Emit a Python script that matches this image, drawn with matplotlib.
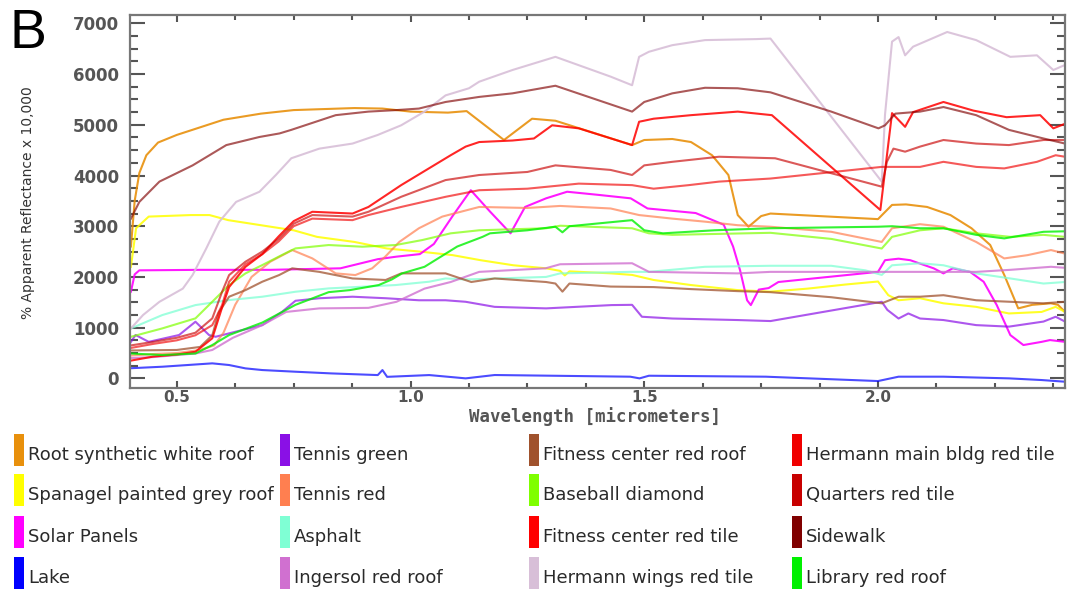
import matplotlib
matplotlib.use("Agg")
import matplotlib.pyplot as plt
from matplotlib.patches import Rectangle
from matplotlib.ticker import MultipleLocator

# ---------------- data (wavelength in micrometers, reflectance x 10,000) ----------------
root_wl = [0.402, 0.41, 0.42, 0.435, 0.46, 0.5, 0.55, 0.6, 0.68, 0.75, 0.88, 0.94, 1.0, 1.08,
           1.12, 1.20, 1.26, 1.31, 1.474, 1.50, 1.56, 1.60, 1.645, 1.68, 1.70, 1.723, 1.75, 1.77,
           2.0, 2.03, 2.06, 2.105, 2.155, 2.20, 2.24, 2.27, 2.30, 2.33, 2.37, 2.385, 2.40]
root_val = [2600, 3500, 4050, 4400, 4650, 4800, 4950, 5100, 5220, 5290, 5330, 5320, 5260, 5240,
            5270, 4700, 5120, 5080, 4600, 4700, 4720, 4660, 4400, 4010, 3220, 2990, 3200, 3250,
            3140, 3420, 3430, 3380, 3220, 2960, 2630, 2040, 1380, 1450, 1480, 1450, 1310]

spanagel_wl = [0.402, 0.413, 0.44, 0.53, 0.57, 0.61, 0.68, 0.75, 0.80, 0.88, 0.95, 1.02, 1.09,
               1.15, 1.22, 1.29, 1.32, 1.33, 1.34, 1.43, 1.474, 1.52, 1.60, 1.70, 1.77, 1.85,
               1.93, 2.0, 2.022, 2.044, 2.09, 2.14, 2.21, 2.28, 2.35, 2.38, 2.40]
spanagel_val = [2200, 2960, 3190, 3220, 3220, 3120, 3020, 2920, 2790, 2690, 2560, 2500, 2430,
                2330, 2230, 2170, 2120, 2030, 2110, 2070, 2040, 1940, 1840, 1740, 1710, 1770,
                1850, 1910, 1640, 1540, 1580, 1480, 1410, 1280, 1310, 1410, 1310]

solar_wl = [0.402, 0.41, 0.42, 0.55, 0.70, 0.85, 0.93, 0.97, 1.02, 1.05, 1.09, 1.129, 1.17,
            1.214, 1.245, 1.29, 1.335, 1.40, 1.471, 1.507, 1.61, 1.67, 1.69, 1.705, 1.72, 1.728,
            1.745, 1.766, 1.787, 2.0, 2.015, 2.044, 2.069, 2.119, 2.14, 2.16, 2.197, 2.226,
            2.254, 2.283, 2.311, 2.35, 2.368, 2.40]
solar_val = [1710, 2050, 2130, 2140, 2140, 2170, 2350, 2400, 2450, 2650, 3200, 3710, 3290,
             2860, 3380, 3550, 3680, 3620, 3550, 3350, 3260, 3030, 2600, 2130, 1540, 1445,
             1750, 1780, 1900, 2100, 2330, 2360, 2330, 2170, 2070, 2170, 2100, 1905,
             1445, 854, 657, 720, 755, 720]

lake_wl = [0.402, 0.47, 0.576, 0.612, 0.647, 0.683, 0.754, 0.83, 0.93, 0.94, 0.95, 1.04,
           1.118, 1.18, 1.47, 1.49, 1.51, 1.76, 2.0, 2.044, 2.14, 2.28, 2.35, 2.40]
lake_val = [200, 230, 296, 263, 197, 164, 131, 98, 65, 164, 30, 65,
            0, 66, 33, 0, 52, 33, -53, 33, 33, 0, -33, -66]

tgreen_wl = [0.402, 0.412, 0.44, 0.505, 0.54, 0.569, 0.583, 0.626, 0.683, 0.725, 0.754, 0.805,
             0.876, 0.947, 1.018, 1.075, 1.118, 1.18, 1.29, 1.43, 1.474, 1.495, 1.56, 1.70,
             1.77, 2.008, 2.02, 2.044, 2.065, 2.09, 2.14, 2.21, 2.28, 2.354, 2.38, 2.40]
tgreen_val = [720, 855, 720, 855, 1117, 855, 820, 920, 1050, 1310, 1530, 1580,
              1610, 1580, 1540, 1540, 1510, 1410, 1380, 1445, 1450, 1215, 1180, 1150,
              1130, 1510, 1350, 1180, 1280, 1180, 1150, 1050, 1020, 1120, 1215, 1120]

tred_wl = [0.402, 0.45, 0.50, 0.55, 0.58, 0.60, 0.625, 0.66, 0.70, 0.747, 0.79, 0.84, 0.882,
           0.918, 0.946, 0.976, 1.018, 1.068, 1.147, 1.25, 1.32, 1.428, 1.489, 1.56, 1.63,
           1.70, 1.77, 1.90, 2.008, 2.03, 2.09, 2.14, 2.21, 2.27, 2.32, 2.37, 2.40]
tred_val = [450, 480, 500, 560, 650, 900, 1450, 2000, 2300, 2530, 2366, 2070, 2037,
            2170, 2400, 2690, 2960, 3190, 3380, 3360, 3400, 3350, 3220, 3150, 3090,
            3020, 2990, 2890, 2690, 2960, 3040, 2990, 2690, 2365, 2430, 2530, 2460]

asphalt_wl = [0.402, 0.469, 0.54, 0.612, 0.683, 0.754, 0.825, 0.897, 0.968, 1.04, 1.075, 1.118,
              1.29, 1.32, 1.47, 1.51, 1.63, 1.77, 1.90, 1.973, 2.008, 2.03, 2.09, 2.14, 2.21,
              2.283, 2.354, 2.40]
asphalt_val = [985, 1248, 1445, 1544, 1610, 1708, 1774, 1807, 1840, 1906, 1970, 1950,
               2000, 2070, 2100, 2100, 2200, 2220, 2220, 2130, 2040, 2230, 2270, 2230, 2070,
               1970, 1870, 1900]

ingersol_wl = [0.402, 0.45, 0.54, 0.576, 0.62, 0.683, 0.734, 0.805, 0.91, 0.97, 1.03, 1.086,
               1.147, 1.289, 1.32, 1.474, 1.51, 1.70, 1.77, 2.09, 2.21, 2.283, 2.37, 2.40]
ingersol_val = [400, 420, 490, 560, 800, 1050, 1310, 1380, 1390, 1510, 1770, 1900,
                2100, 2170, 2250, 2270, 2100, 2070, 2100, 2100, 2100, 2140, 2200, 2180]

fc_roof_wl = [0.402, 0.50, 0.55, 0.576, 0.59, 0.612, 0.647, 0.683, 0.719, 0.747, 0.805, 0.876,
              0.947, 0.98, 1.075, 1.13, 1.18, 1.29, 1.31, 1.325, 1.34, 1.428, 1.52, 1.60,
              1.70, 1.77, 1.90, 2.008, 2.044, 2.09, 2.14, 2.21, 2.283, 2.354, 2.40]
fc_roof_val = [550, 560, 620, 850, 1300, 1610, 1740, 1906, 2037, 2170, 2100, 1970,
               1940, 2070, 2070, 1900, 1970, 1900, 1870, 1710, 1870, 1810, 1800, 1760,
               1720, 1700, 1600, 1480, 1610, 1610, 1640, 1540, 1510, 1480, 1510]

baseball_wl = [0.402, 0.469, 0.54, 0.576, 0.612, 0.647, 0.683, 0.725, 0.754, 0.825, 0.897,
               0.968, 1.025, 1.086, 1.147, 1.29, 1.32, 1.474, 1.51, 1.56, 1.77, 1.90, 2.008,
               2.03, 2.09, 2.14, 2.21, 2.283, 2.354, 2.40]
baseball_val = [820, 985, 1183, 1511, 1840, 2070, 2234, 2432, 2563, 2629, 2596,
                2629, 2727, 2860, 2920, 2960, 3010, 2960, 2860, 2830, 2870, 2750, 2560,
                2790, 2920, 2960, 2860, 2790, 2830, 2790]

fc_tile_wl = [0.402, 0.45, 0.50, 0.54, 0.576, 0.597, 0.612, 0.647, 0.683, 0.718, 0.75, 0.79,
              0.876, 0.91, 0.98, 1.086, 1.118, 1.147, 1.218, 1.264, 1.303, 1.36, 1.474, 1.489,
              1.52, 1.60, 1.70, 1.773, 2.005, 2.03, 2.058, 2.075, 2.14, 2.204, 2.275, 2.347,
              2.375, 2.40]
fc_tile_val = [350, 430, 470, 525, 790, 1400, 1800, 2200, 2450, 2800, 3100, 3285,
               3250, 3380, 3810, 4400, 4570, 4660, 4690, 4730, 4990, 4930, 4600, 5060,
               5120, 5190, 5260, 5190, 3320, 5230, 4960, 5250, 5450, 5280, 5150, 5190,
               4930, 5020]

wings_wl = [0.402, 0.428, 0.463, 0.513, 0.534, 0.563, 0.591, 0.627, 0.677, 0.712, 0.745, 0.805,
            0.876, 0.93, 0.98, 1.03, 1.075, 1.125, 1.147, 1.218, 1.31, 1.428, 1.474, 1.489,
            1.51, 1.56, 1.63, 1.74, 1.77, 2.008, 2.015, 2.03, 2.044, 2.058, 2.075, 2.148,
            2.21, 2.283, 2.34, 2.375, 2.40]
wings_val = [985, 1250, 1510, 1770, 2040, 2560, 3090, 3480, 3680, 4010, 4340, 4530,
             4630, 4800, 4990, 5260, 5580, 5720, 5850, 6080, 6340, 5950, 5780, 6340,
             6440, 6570, 6670, 6690, 6700, 3880, 5200, 6640, 6730, 6370, 6540, 6830,
             6670, 6340, 6370, 6080, 6180]

main_wl = [0.402, 0.45, 0.50, 0.54, 0.576, 0.597, 0.612, 0.647, 0.683, 0.718, 0.75, 0.79,
           0.876, 0.91, 0.98, 1.075, 1.147, 1.25, 1.36, 1.474, 1.52, 1.595, 1.66, 1.77,
           2.008, 2.09, 2.14, 2.21, 2.27, 2.34, 2.38, 2.40]
main_val = [600, 680, 750, 850, 1050, 1445, 1906, 2250, 2450, 2700, 3000, 3150,
            3120, 3220, 3380, 3580, 3710, 3740, 3840, 3810, 3740, 3810, 3880, 3940,
            4170, 4170, 4270, 4170, 4140, 4270, 4400, 4370]

quarters_wl = [0.402, 0.45, 0.50, 0.54, 0.576, 0.597, 0.612, 0.647, 0.683, 0.718, 0.75, 0.79,
               0.876, 0.91, 0.98, 1.075, 1.147, 1.25, 1.31, 1.428, 1.474, 1.50, 1.56, 1.66,
               1.78, 2.008, 2.019, 2.033, 2.058, 2.09, 2.14, 2.21, 2.28, 2.354, 2.40]
quarters_val = [650, 720, 800, 900, 1183, 1708, 2037, 2300, 2500, 2750, 3050, 3220,
                3190, 3285, 3580, 3910, 4010, 4070, 4200, 4110, 4010, 4200, 4270, 4370,
                4340, 3780, 4270, 4530, 4470, 4570, 4700, 4630, 4600, 4700, 4700]

sidewalk_wl = [0.402, 0.42, 0.463, 0.534, 0.606, 0.677, 0.72, 0.745, 0.84, 0.91, 0.97, 1.018,
               1.075, 1.147, 1.218, 1.31, 1.474, 1.50, 1.56, 1.63, 1.70, 1.77, 1.90, 2.001,
               2.015, 2.037, 2.09, 2.14, 2.21, 2.28, 2.354, 2.40]
sidewalk_val = [3150, 3480, 3880, 4200, 4600, 4760, 4830, 4900, 5190, 5260, 5290, 5320,
                5450, 5550, 5620, 5770, 5260, 5450, 5620, 5730, 5720, 5640, 5260, 4930,
                4990, 5220, 5260, 5350, 5190, 4900, 4730, 4630]

library_wl = [0.402, 0.469, 0.54, 0.576, 0.612, 0.683, 0.754, 0.825, 0.87, 0.932, 0.96, 0.982,
              1.03, 1.10, 1.154, 1.17, 1.25, 1.31, 1.325, 1.34, 1.474, 1.50, 1.54, 1.65,
              1.77, 2.0, 2.03, 2.09, 2.14, 2.21, 2.27, 2.354, 2.40]
library_val = [490, 460, 490, 657, 854, 1100, 1450, 1700, 1740, 1840, 1950, 2070,
               2200, 2600, 2790, 2860, 2920, 2990, 2880, 3000, 3120, 2920, 2860, 2920,
               2960, 2990, 3000, 2960, 2960, 2830, 2760, 2890, 2900]

labels = ["Root synthetic white roof", "Spanagel painted grey roof", "Solar Panels", "Lake",
          "Tennis green", "Tennis red", "Asphalt", "Ingersol red roof",
          "Fitness center red roof", "Baseball diamond", "Fitness center red tile",
          "Hermann wings red tile",
          "Hermann main bldg red tile", "Quarters red tile", "Sidewalk", "Library red roof"]
series_wl = [root_wl, spanagel_wl, solar_wl, lake_wl, tgreen_wl, tred_wl, asphalt_wl,
             ingersol_wl, fc_roof_wl, baseball_wl, fc_tile_wl, wings_wl, main_wl,
             quarters_wl, sidewalk_wl, library_wl]
series_val = [root_val, spanagel_val, solar_val, lake_val, tgreen_val, tred_val, asphalt_val,
              ingersol_val, fc_roof_val, baseball_val, fc_tile_val, wings_val, main_val,
              quarters_val, sidewalk_val, library_val]

# ---------------- styles ----------------
colors = ["#E8900C", "#FFFF00", "#FF00FF", "#0000FF",
          "#8A10E6", "#FF7F50", "#7FFFD4", "#D070D0",
          "#A0522D", "#7FFF00", "#FF0000", "#D8BFD8",
          "#F00000", "#C80000", "#800000", "#00F000"]
line_alpha = [0.9, 0.85, 0.9, 0.7,
              0.7, 0.7, 0.75, 0.8,
              0.75, 0.7, 0.85, 0.9,
              0.65, 0.65, 0.65, 0.8]

W, H = 1073, 592
fig = plt.figure(figsize=(W / 100, H / 100), dpi=100)
fig.patch.set_facecolor("white")

ax = fig.add_axes([130 / W, 1 - 388 / H, (1065 - 130) / W, (388 - 15) / H])
for wl, val, c, a in zip(series_wl, series_val, colors, line_alpha):
    ax.plot(wl, val, color=c, lw=1.5, alpha=a, solid_joinstyle="round")

ax.set_xlim(0.4, 2.4)
ax.set_ylim(-190, 7165)
ax.xaxis.set_major_locator(MultipleLocator(0.5))
ax.xaxis.set_minor_locator(MultipleLocator(0.125))
ax.yaxis.set_major_locator(MultipleLocator(1000))
ax.yaxis.set_minor_locator(MultipleLocator(250))
ax.tick_params(axis="both", which="both", direction="in", color="#555555", width=1.5,
               top=True, right=True, labelcolor="#555555")
ax.tick_params(axis="y", which="major", length=11, pad=8, labelsize=12)
ax.tick_params(axis="y", which="minor", length=6)
ax.tick_params(axis="x", which="major", length=5, pad=1.5, labelsize=11)
ax.tick_params(axis="x", which="minor", length=3.5)
ax.set_xticks([0.5, 1.0, 1.5, 2.0])
ax.set_xticklabels(["0.5", "1.0", "1.5", "2.0"])
for lab in ax.get_xticklabels() + ax.get_yticklabels():
    lab.set_fontweight("bold")
for sp in ax.spines.values():
    sp.set_color("#777777")
    sp.set_linewidth(1.6)

fig.text(595 / W, 1 - 417 / H, "Wavelength [micrometers]", ha="center", va="center",
         fontsize=12.5, family="DejaVu Sans Mono", fontweight="bold", color="#555555")
fig.text(28 / W, 1 - 203 / H, "% Apparent Reflectance x 10,000", ha="center", va="center",
         rotation=90, fontsize=10, color="#333333")
fig.text(9 / W, 1 - 8 / H, "B", ha="left", va="top", fontsize=40, family="Liberation Sans",
         color="black")

# ---------------- legend (4 columns x 4 rows) ----------------
col_x = [14, 280, 529, 792]
row_y = [453, 493, 535, 576]
for i, (lab, c) in enumerate(zip(labels, colors)):
    col, row = divmod(i, 4)
    x0 = col_x[col]
    yc = row_y[row]
    fig.patches.append(Rectangle((x0 / W, 1 - (yc + 13) / H), 10 / W, 32 / H,
                                 transform=fig.transFigure, facecolor=c, edgecolor="none"))
    fig.text((x0 + 14) / W, 1 - (yc + 2) / H, lab, ha="left", va="center", fontsize=13,
             family="DejaVu Sans", color="#2a2a2a")

fig.savefig("out.png", dpi=100)
